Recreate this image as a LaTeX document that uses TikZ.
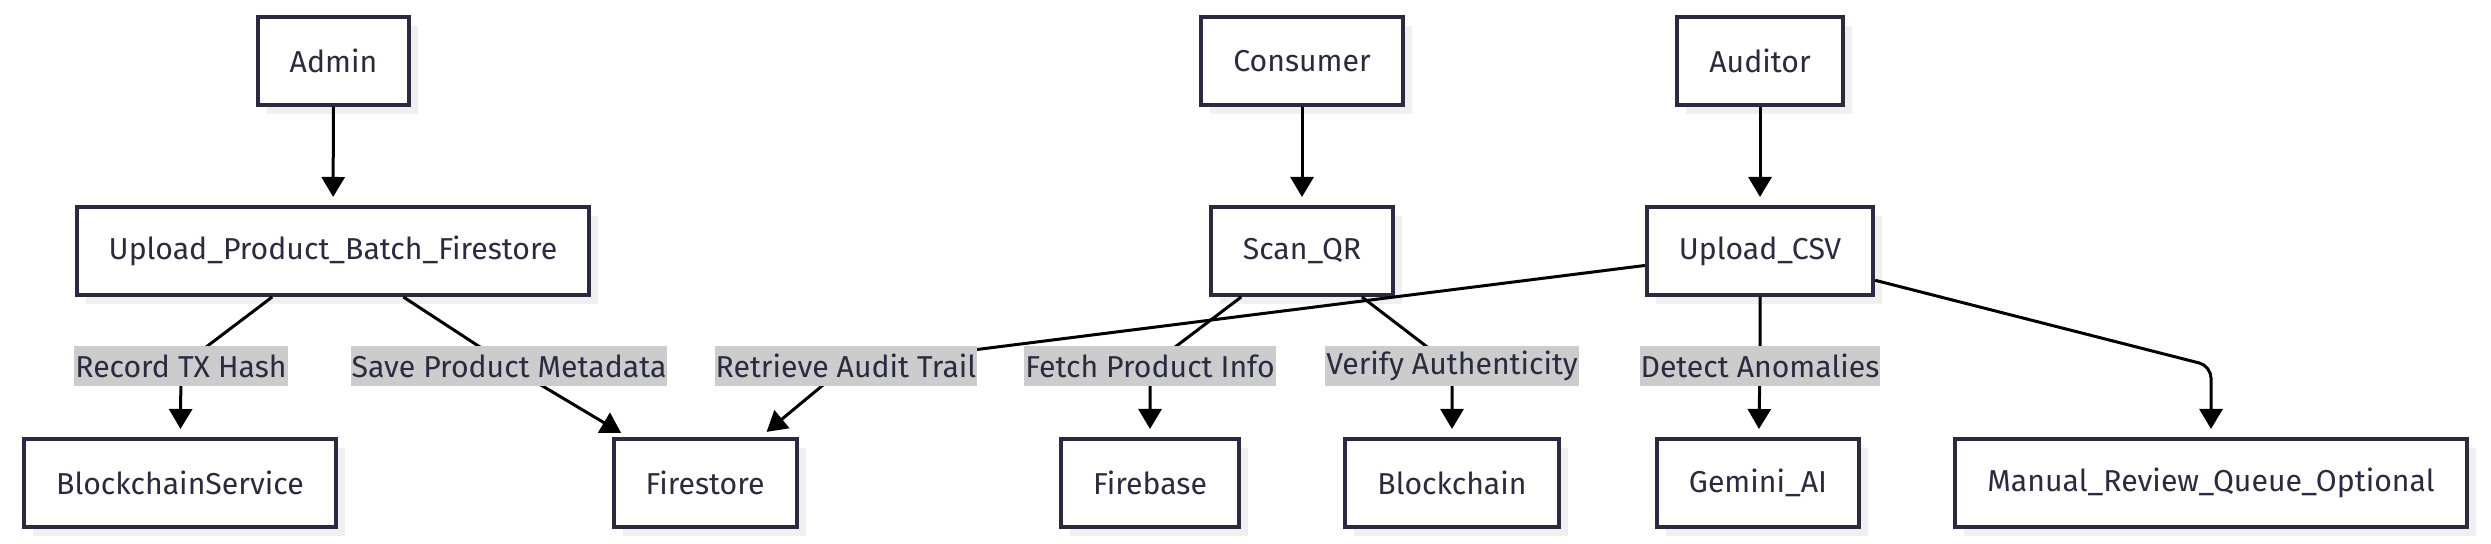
\documentclass[tikz,border=0pt]{standalone}
\usepackage{fontspec}
\setmainfont{Fira Sans}
\usetikzlibrary{arrows.meta,shadows}

\definecolor{nodeline}{HTML}{2B2A40}
\definecolor{nodetext}{HTML}{2B2A40}
\definecolor{labelfill}{HTML}{CCCCCC}
\definecolor{shadowgray}{HTML}{F0F0F0}

\tikzset{
	box/.style={draw=nodeline, line width=0.04cm, fill=white, text=nodetext,
		minimum height=0.88cm, inner xsep=0.32cm,
		font=\fontsize{8.6}{10}\selectfont,
		drop shadow={shadow xshift=0.09cm, shadow yshift=-0.09cm, fill=shadowgray, opacity=1}},
	lbl/.style={fill=labelfill, text=nodetext, inner xsep=0.01cm, inner ysep=0pt,
		minimum height=0.40cm, font=\fontsize{8.6}{10}\selectfont},
	edge/.style={-{Triangle[length=0.2cm, width=0.23cm]}, line width=0.03cm, black, shorten >=0.08cm}
}

\begin{document}
\begin{tikzpicture}[]
	%\draw[help lines, thick] (0,0) grid (25,-6);
	\useasboundingbox (0,0) rectangle (24.91,-5.44);
	% top row
	\node[box] (admin) at (3.335,-0.61) {Admin};
	\node[box] (consumer) at (13.02,-0.61) {Consumer};
	\node[box] (auditor) at (17.60,-0.61) {Auditor};
	% middle row
	\node[box] (upbatch) at (3.33,-2.51) {Upload\_Product\_Batch\_Firestore};
	\node[box] (scanqr) at (13.02,-2.51) {Scan\_QR};
	\node[box] (upcsv) at (17.60,-2.51) {Upload\_CSV};
	% bottom row
	\node[box] (bcservice) at (1.80,-4.83) {BlockchainService};
	\node[box] (firestore) at (7.05,-4.83) {Firestore};
	\node[box] (firebase) at (11.50,-4.83) {Firebase};
	\node[box] (blockchain) at (14.52,-4.83) {Blockchain};
	\node[box] (gemini) at (17.58,-4.83) {Gemini\_AI};
	\node[box] (review) at (22.11,-4.83) {Manual\_Review\_Queue\_Optional};
	% label spots
	\coordinate (crecord) at (1.81,-3.66);
	\coordinate (csave) at (5.09,-3.66);
	\coordinate (cretrieve) at (8.46,-3.66);
	\coordinate (cfetch) at (11.50,-3.66);
	\coordinate (cverify) at (14.52,-3.66);
	\coordinate (cdetect) at (17.60,-3.66);
	\coordinate (cbend) at (review.north |- cdetect);
	% connectors
	\draw[edge] (admin) -- (upbatch);
	\draw[edge] (consumer) -- (scanqr);
	\draw[edge] (auditor) -- (upcsv);
	\draw[edge] (upbatch) -- (crecord) -- (bcservice);
	\draw[edge] (upbatch) -- (csave) -- (firestore);
	\draw[edge] (upcsv) -- (cretrieve) -- (firestore);
	\draw[edge] (scanqr) -- (cfetch) -- (firebase);
	\draw[edge] (scanqr) -- (cverify) -- (blockchain);
	\draw[edge] (upcsv) -- (cdetect) -- (gemini);
	\draw[edge, rounded corners=0.12cm] (upcsv) -- (cbend) -- (review);
	% labels
	\node[lbl] (lrecord) at (crecord) {Record TX Hash};
	\node[lbl] (lsave) at (csave) {Save Product Metadata};
	\node[lbl] (lretrieve) at (cretrieve) {Retrieve Audit Trail};
	\node[lbl] (lfetch) at (cfetch) {Fetch Product Info};
	\node[lbl] (lverify) at (cverify) {Verify Authenticity};
	\node[lbl] (ldetect) at (cdetect) {Detect Anomalies};
\end{tikzpicture}
\end{document}
